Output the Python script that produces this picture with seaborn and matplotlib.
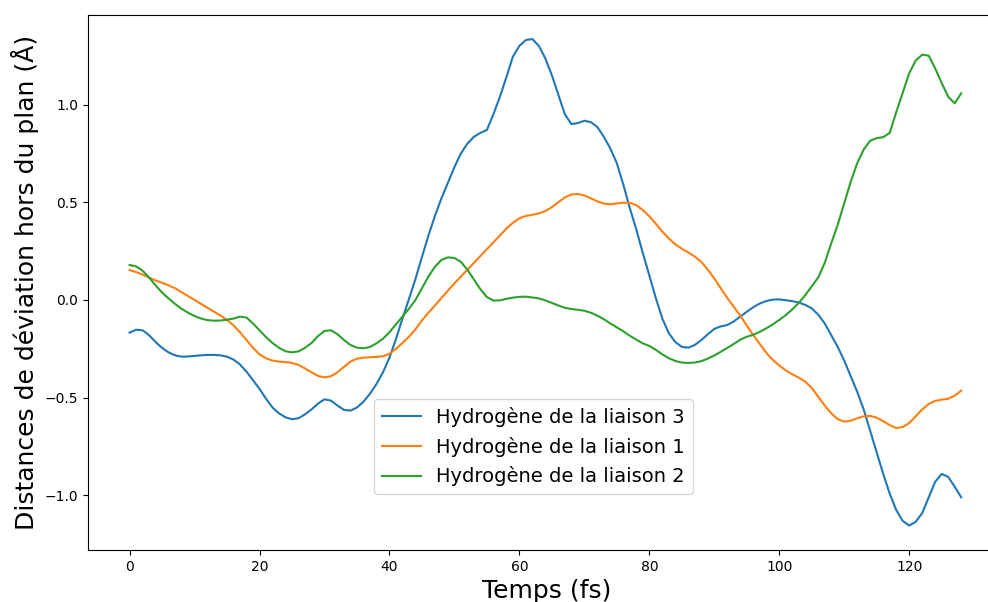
import matplotlib
matplotlib.use("Agg")
import matplotlib.pyplot as plt
import pandas as pd
import seaborn as sns

# Time axis (fs), one sample per femtosecond
temps = list(range(129))

# Out-of-plane deviation (Å) of each hydrogen
liaison_3 = [
    -0.167, -0.152, -0.155, -0.18, -0.215, -0.245, -0.268, -0.283, -0.29, -0.289,
    -0.286, -0.283, -0.281, -0.281, -0.283, -0.29, -0.305, -0.33, -0.367, -0.41,
    -0.455, -0.505, -0.55, -0.58, -0.60, -0.61, -0.605, -0.585, -0.56, -0.53,
    -0.508, -0.515, -0.54, -0.562, -0.566, -0.55, -0.52, -0.48, -0.43, -0.37,
    -0.295, -0.20, -0.095, 0.005, 0.107, 0.22, 0.33, 0.43, 0.52, 0.60,
    0.68, 0.75, 0.80, 0.835, 0.855, 0.87, 0.95, 1.04, 1.14, 1.245,
    1.30, 1.33, 1.335, 1.30, 1.235, 1.15, 1.05, 0.95, 0.90, 0.905,
    0.917, 0.91, 0.885, 0.835, 0.775, 0.70, 0.59, 0.47, 0.36, 0.24,
    0.126, 0.01, -0.095, -0.17, -0.215, -0.24, -0.244, -0.23, -0.205, -0.175,
    -0.148, -0.135, -0.128, -0.11, -0.085, -0.06, -0.037, -0.018, -0.005, 0.002,
    0.003, -0.001, -0.006, -0.013, -0.025, -0.043, -0.075, -0.12, -0.18, -0.24,
    -0.31, -0.39, -0.47, -0.56, -0.67, -0.78, -0.89, -0.99, -1.074, -1.13,
    -1.154, -1.135, -1.09, -1.01, -0.93, -0.89, -0.905, -0.955, -1.009,
]

liaison_1 = [
    0.153, 0.143, 0.13, 0.115, 0.10, 0.088, 0.075, 0.06, 0.04, 0.02,
    0.0, -0.02, -0.04, -0.06, -0.08, -0.102, -0.13, -0.165, -0.205, -0.245,
    -0.278, -0.298, -0.31, -0.315, -0.318, -0.322, -0.332, -0.35, -0.37, -0.388,
    -0.396, -0.39, -0.37, -0.342, -0.315, -0.30, -0.295, -0.293, -0.291, -0.288,
    -0.275, -0.25, -0.22, -0.188, -0.15, -0.105, -0.065, -0.028, 0.01, 0.048,
    0.085, 0.12, 0.155, 0.19, 0.225, 0.26, 0.295, 0.33, 0.365, 0.395,
    0.418, 0.43, 0.436, 0.443, 0.455, 0.475, 0.50, 0.525, 0.54, 0.542,
    0.535, 0.52, 0.505, 0.493, 0.49, 0.494, 0.498, 0.497, 0.485, 0.46,
    0.428, 0.39, 0.35, 0.315, 0.285, 0.262, 0.243, 0.222, 0.195, 0.155,
    0.11, 0.06, 0.01, -0.035, -0.08, -0.13, -0.18, -0.225, -0.27, -0.307,
    -0.335, -0.36, -0.38, -0.397, -0.418, -0.45, -0.495, -0.54, -0.58, -0.61,
    -0.622, -0.618, -0.605, -0.595, -0.593, -0.602, -0.62, -0.64, -0.655, -0.65,
    -0.63, -0.595, -0.56, -0.532, -0.516, -0.51, -0.505, -0.49, -0.464,
]

liaison_2 = [
    0.179, 0.172, 0.15, 0.115, 0.075, 0.038, 0.008, -0.02, -0.045, -0.065,
    -0.082, -0.095, -0.103, -0.106, -0.105, -0.101, -0.095, -0.085, -0.09, -0.12,
    -0.155, -0.19, -0.22, -0.245, -0.262, -0.268, -0.263, -0.245, -0.22, -0.185,
    -0.158, -0.155, -0.175, -0.205, -0.23, -0.244, -0.247, -0.24, -0.222, -0.198,
    -0.165, -0.125, -0.085, -0.045, 0.0, 0.06, 0.12, 0.17, 0.205, 0.218,
    0.215, 0.195, 0.155, 0.105, 0.055, 0.015, -0.003, -0.002, 0.006, 0.012,
    0.016, 0.017, 0.013, 0.008, -0.002, -0.015, -0.028, -0.04, -0.046, -0.05,
    -0.055, -0.065, -0.08, -0.098, -0.12, -0.14, -0.16, -0.183, -0.203, -0.222,
    -0.235, -0.255, -0.278, -0.298, -0.312, -0.32, -0.322, -0.32, -0.313, -0.30,
    -0.284, -0.265, -0.245, -0.225, -0.203, -0.188, -0.178, -0.163, -0.145, -0.125,
    -0.102, -0.077, -0.048, -0.015, 0.025, 0.07, 0.115, 0.19, 0.29, 0.385,
    0.495, 0.605, 0.70, 0.77, 0.815, 0.828, 0.833, 0.855, 0.96, 1.06,
    1.16, 1.225, 1.255, 1.25, 1.185, 1.11, 1.04, 1.006, 1.057,
]

noms = ["Hydrogène de la liaison 3", "Hydrogène de la liaison 1", "Hydrogène de la liaison 2"]

df = pd.concat([
    pd.DataFrame({"Temps": temps, "Deviation": vals, "Atome": nom})
    for nom, vals in zip(noms, [liaison_3, liaison_1, liaison_2])
], ignore_index=True)

W, H = 988, 602
fig = plt.figure(figsize=(W / 100, H / 100), dpi=100)
ax = fig.add_axes([88 / W, (H - 550) / H, (1006 - 88) / W, (550 - 15) / H])

sns.lineplot(data=df, x="Temps", y="Deviation", hue="Atome", hue_order=noms,
             palette=["#1f77b4", "#ff7f0e", "#2ca02c"], linewidth=1.5, ax=ax)

ax.set_xlim(-6.4, 134.9)
ax.set_ylim(-1.279, 1.458)
ax.set_xlabel("Temps (fs)", fontsize=18)
ax.set_ylabel("Distances de déviation hors du plan (Å)", fontsize=18)
ax.legend(title=None, fontsize=14, loc="center", bbox_to_anchor=(0.485, 0.193))

fig.savefig("out.png", dpi=100)
